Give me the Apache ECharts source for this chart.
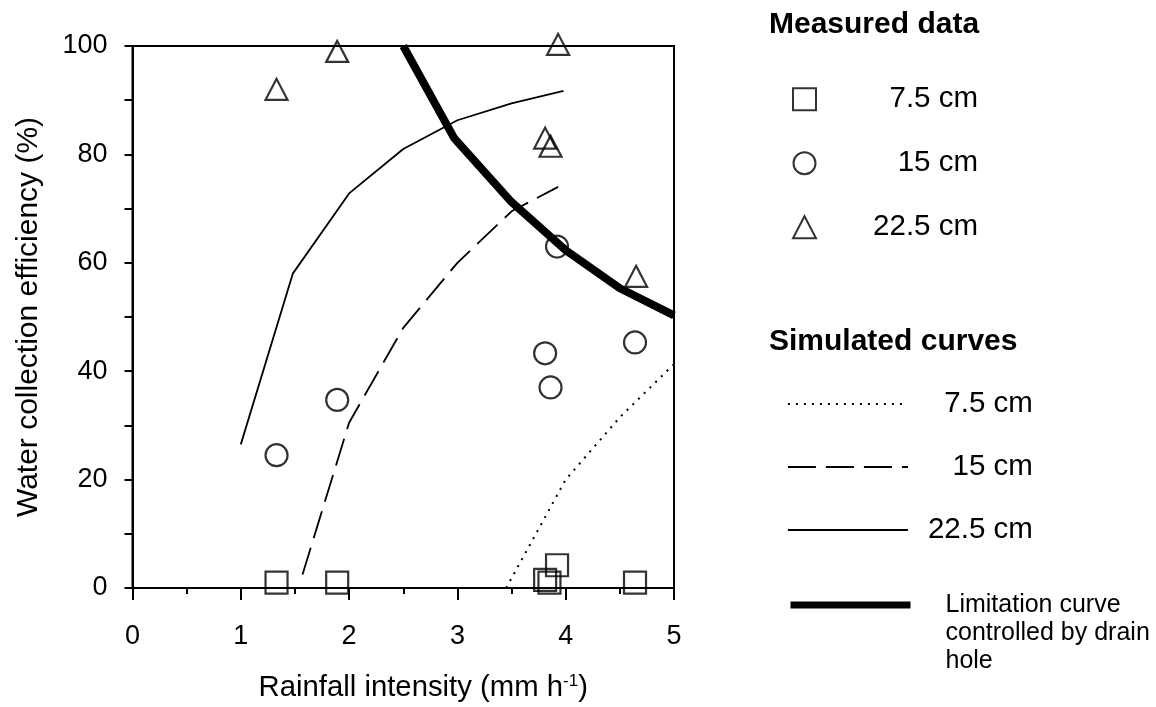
<!DOCTYPE html>
<html>
<head>
<meta charset="utf-8">
<script src="https://cdn.jsdelivr.net/npm/echarts@6/dist/echarts.min.js"></script>
<style>
html,body{margin:0;padding:0;background:#fff;}
#chart{width:1156px;height:707px;}
</style>
</head>
<body>
<div id="chart"></div>
<script>
// ---- Data ----
var measured7_5  = [[1.33, 1.0], [1.89, 1.0], [3.81, 1.5], [3.85, 1.0], [3.92, 4.2], [4.64, 1.0]];
var measured15   = [[1.33, 24.5], [1.89, 34.7], [3.81, 43.3], [3.86, 37.0], [3.92, 63.0], [4.64, 45.3]];
var measured22_5 = [[1.33, 92.0], [1.89, 99.0], [3.81, 83.0], [3.86, 81.5], [3.93, 100.3], [4.65, 57.5]];

var simulated7_5  = [[3.45, 0], [4.0, 20.0], [4.5, 31.5], [5.0, 41.3]];
var simulated15   = [[1.57, 2.5], [2.0, 30.5], [2.5, 48.0], [3.0, 60.0], [3.5, 69.5], [3.93, 74.0]];
var simulated22_5 = [[1.0, 26.5], [1.48, 58.0], [2.0, 72.8], [2.5, 81.0], [3.0, 86.3], [3.5, 89.4], [3.98, 91.7]];
var limitation    = [[2.5, 100], [2.97, 83.0], [3.5, 71.2], [4.0, 62.3], [4.5, 55.3], [5.0, 50.3]];

var legendLabels = {
  'Measured 7.5 cm': '7.5 cm',
  'Measured 15 cm': '15 cm',
  'Measured 22.5 cm': '22.5 cm',
  'Simulated 7.5 cm': '7.5 cm',
  'Simulated 15 cm': '15 cm',
  'Simulated 22.5 cm': '22.5 cm',
  'Limitation curve': '\n\nLimitation curve\ncontrolled by drain\nhole'
};

var FONT = '"Liberation Sans", Arial, Helvetica, sans-serif';
var chart = echarts.init(document.getElementById('chart'), null, {renderer: 'canvas'});

var markerStyle = {color: 'rgba(255,255,255,0)', borderColor: '#000', borderWidth: 2.2};

var option = {
  backgroundColor: '#fff',
  animation: false,
  textStyle: {fontFamily: FONT, color: '#000'},
  title: [
    {text: 'Measured data', left: 764, top: 5,
     textStyle: {fontFamily: FONT, fontSize: 30, fontWeight: 'bold', color: '#000'}},
    {text: 'Simulated curves', left: 764, top: 322,
     textStyle: {fontFamily: FONT, fontSize: 30, fontWeight: 'bold', color: '#000'}}
  ],
  grid: {left: 132.5, right: 482, top: 46, bottom: 118, show: true,
         borderColor: '#000', borderWidth: 2, backgroundColor: 'transparent'},
  legend: [
    {
      orient: 'vertical', left: 792, top: 84.25, padding: 0,
      itemWidth: 23, itemHeight: 22, itemGap: 34,
      selectedMode: false,
      data: ['Measured 7.5 cm', 'Measured 15 cm', 'Measured 22.5 cm'],
      formatter: function (n) { return '{r|' + legendLabels[n] + '}'; },
      textStyle: {fontFamily: FONT, fontSize: 29.5, color: '#000',
                  rich: {r: {width: 157, align: 'right', fontFamily: FONT, fontSize: 29.5, color: '#000'}}}
    },
    {
      orient: 'vertical', left: 787, top: 389, padding: 0,
      itemWidth: 120, itemHeight: 14, itemGap: 33,
      selectedMode: false,
      lineStyle: {width: 1.8},
      itemStyle: {opacity: 0},
      data: ['Simulated 7.5 cm', 'Simulated 15 cm', 'Simulated 22.5 cm'],
      formatter: function (n) { return '{r|' + legendLabels[n] + '}'; },
      textStyle: {fontFamily: FONT, fontSize: 29.5, color: '#000',
                  rich: {r: {width: 120, align: 'right', fontFamily: FONT, fontSize: 29.5, color: '#000'}}}
    },
    {
      orient: 'vertical', left: 787, top: 535, padding: 0,
      itemWidth: 120, itemHeight: 8,
      selectedMode: false,
      lineStyle: {width: 7},
      itemStyle: {opacity: 0},
      data: ['Limitation curve'],
      formatter: function (n) { return legendLabels[n]; },
      textStyle: {fontFamily: FONT, fontSize: 25, lineHeight: 28, color: '#000', padding: [0, 0, 0, 30]}
    }
  ],
  xAxis: {
    type: 'value', min: 0, max: 5, interval: 1,
    name: 'Rainfall intensity (mm h{sup|-1})',
    nameLocation: 'middle', nameGap: 85,
    nameTextStyle: {fontFamily: FONT, fontSize: 29.3, color: '#000', padding: [0, 0, 0, 40],
                    rich: {sup: {fontFamily: FONT, fontSize: 17, color: '#000', verticalAlign: 'top'}}},
    axisLine: {onZero: false, lineStyle: {color: '#000', width: 2}},
    axisTick: {show: true, length: 12, lineStyle: {color: '#000', width: 2}},
    minorTick: {show: true, splitNumber: 2, length: 6, lineStyle: {color: '#000', width: 2}},
    splitLine: {show: false},
    axisLabel: {fontFamily: FONT, fontSize: 27, color: '#000', margin: 35}
  },
  yAxis: {
    type: 'value', min: 0, max: 100, interval: 20,
    name: 'Water collection efficiency (%)',
    nameLocation: 'middle', nameGap: 89,
    nameTextStyle: {fontFamily: FONT, fontSize: 30, color: '#000'},
    axisLine: {onZero: false, lineStyle: {color: '#000', width: 2}},
    axisTick: {show: true, length: 8, lineStyle: {color: '#000', width: 2}},
    minorTick: {show: true, splitNumber: 2, length: 8, lineStyle: {color: '#000', width: 2}},
    splitLine: {show: false},
    axisLabel: {fontFamily: FONT, fontSize: 27, color: '#000', margin: 25}
  },
  series: [
    {name: 'Simulated 7.5 cm', type: 'line', data: simulated7_5, symbol: 'none', clip: true,
     itemStyle: {color: '#000'},
     lineStyle: {color: '#000', width: 2, type: [2, 6]}},
    {name: 'Simulated 15 cm', type: 'line', data: simulated15, symbol: 'none', clip: true,
     itemStyle: {color: '#000'},
     lineStyle: {color: '#000', width: 1.8, type: [28, 10]}},
    {name: 'Simulated 22.5 cm', type: 'line', data: simulated22_5, symbol: 'none', clip: true,
     itemStyle: {color: '#000'},
     lineStyle: {color: '#000', width: 1.8, type: 'solid'}},
    {name: 'Limitation curve', type: 'line', data: limitation, symbol: 'none', clip: true,
     itemStyle: {color: '#000'},
     lineStyle: {color: '#000', width: 8, type: 'solid'}},
    {name: 'Measured 7.5 cm', type: 'scatter', data: measured7_5, symbol: 'rect', symbolSize: 22,
     clip: false, itemStyle: markerStyle},
    {name: 'Measured 15 cm', type: 'scatter', data: measured15, symbol: 'circle', symbolSize: 22,
     clip: false, itemStyle: markerStyle},
    {name: 'Measured 22.5 cm', type: 'scatter', data: measured22_5, symbol: 'triangle', symbolSize: [22, 21],
     clip: false, itemStyle: markerStyle}
  ]
};
chart.setOption(option);
</script>
</body>
</html>
